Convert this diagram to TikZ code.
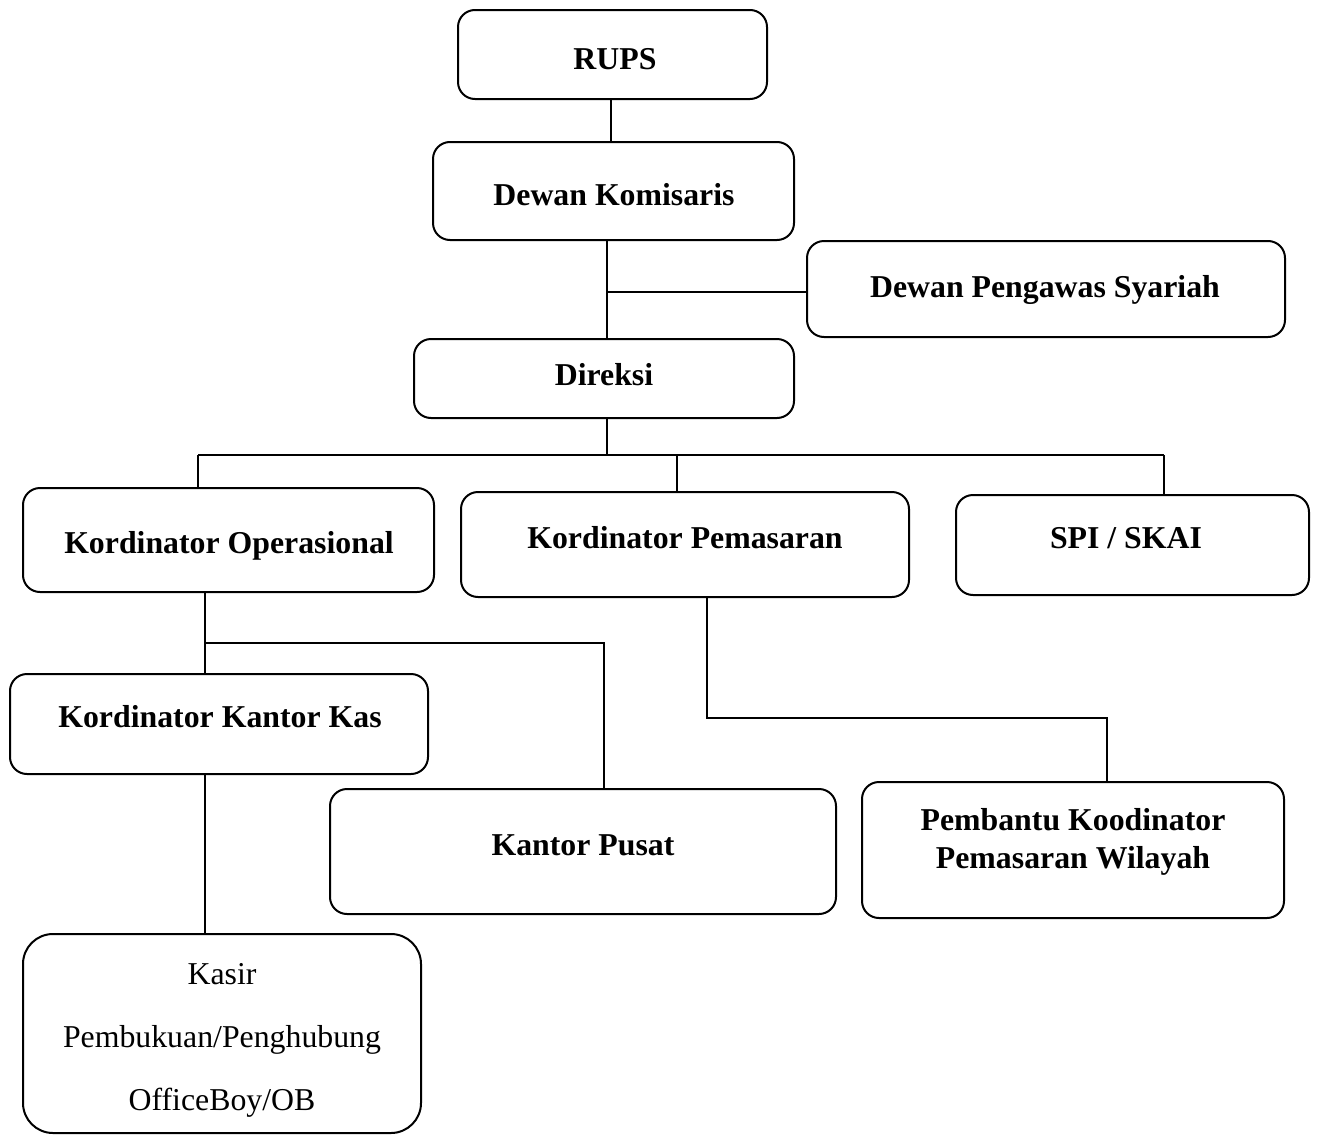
\documentclass[tikz,border=0pt]{standalone}
\usepackage{fontspec}
\setmainfont{Liberation Serif}

\begin{document}
\begin{tikzpicture}[
    x=0.5pt, y=-0.5pt,
    unit/.style={rectangle, draw=black, line width=1pt, rounded corners=8.5pt,
        inner sep=0pt},
    title/.style={font=\fontsize{15.9}{19}\selectfont\bfseries, align=center,
        inner sep=0pt, yshift=-1.5pt},
    staff/.style={font=\fontsize{15.9}{31.5}\selectfont, align=center,
        inner sep=0pt, yshift=-1.5pt},
    link/.style={line width=0.9pt, -}
]
    \useasboundingbox (0,0) rectangle (1317,1135);
    % boxes
    \node[unit, minimum width=154.5pt, minimum height=44.5pt] (rups) at (612.5,54.5) {};
    \node[unit, minimum width=180.5pt, minimum height=49pt] (dk) at (613.5,191) {};
    \node[unit, minimum width=239pt, minimum height=48pt] (dps) at (1046,289) {};
    \node[unit, minimum width=190pt, minimum height=39.5pt] (dir) at (604,378.5) {};
    \node[unit, minimum width=205.5pt, minimum height=52pt] (ko) at (228.5,540) {};
    \node[unit, minimum width=224pt, minimum height=52.5pt] (kp) at (685,544.5) {};
    \node[unit, minimum width=176.5pt, minimum height=50pt] (spi) at (1132.5,545) {};
    \node[unit, minimum width=209pt, minimum height=50pt] (kkk) at (219,724) {};
    \node[unit, minimum width=253pt, minimum height=62.5pt] (kpus) at (583,851.5) {};
    \node[unit, minimum width=211pt, minimum height=68pt] (pkpw) at (1073,850) {};
    \node[unit, rounded corners=15pt, minimum width=199pt, minimum height=99.5pt] (kasir) at (222,1033.5) {};
    % texts
    \node[title] (rupsT) at (615,56) {RUPS};
    \node[title] (dkT) at (614,192) {Dewan Komisaris};
    \node[title] (dpsT) at (1045,287) {Dewan Pengawas Syariah};
    \node[title] (dirT) at (604,372) {Direksi};
    \node[title] (koT) at (229,543) {Kordinator Operasional};
    \node[title] (kpT) at (685,535) {Kordinator Pemasaran};
    \node[title] (spiT) at (1126,535) {SPI / SKAI};
    \node[title] (kkkT) at (220,714) {Kordinator Kantor Kas};
    \node[title] (kpusT) at (583,842) {Kantor Pusat};
    \node[title] (pkpwT) at (1073,839) {Pembantu Koodinator\\Pemasaran Wilayah};
    \node[staff] (kasirT) at (222,1037) {Kasir\\Pembukuan/Penghubung\\OfficeBoy/OB};
    % junctions
    \coordinate (j1) at (607,292);
    \coordinate (bus) at (607,455);
    \coordinate (busL) at (198,455);
    \coordinate (busM) at (677,455);
    \coordinate (busR) at (1164,455);
    \coordinate (j2) at (205,643);
    \coordinate (j3) at (604,643);
    \coordinate (j4) at (707,718);
    \coordinate (j5) at (1107,718);
    % lines
    \draw[link] (rups.south -| 611,0) -- (dk.north -| 611,0);
    \draw[link] (dk.south -| j1) -- (dir.north -| j1);
    \draw[link] (j1) -- (j1 -| dps.west);
    \draw[link] (dir.south -| bus) -- (bus);
    \draw[link] (busL) -- (busR);
    \draw[link] (busL) -- (busL |- ko.north);
    \draw[link] (busM) -- (busM |- kp.north);
    \draw[link] (busR) -- (busR |- spi.north);
    \draw[link] (ko.south -| j2) -- (kkk.north -| j2);
    \draw[link] (j2) -- (j3) -- (j3 |- kpus.north);
    \draw[link] (kp.south -| j4) -- (j4) -- (j5) -- (j5 |- pkpw.north);
    \draw[link] (kkk.south -| j2) -- (kasir.north -| j2);
\end{tikzpicture}
\end{document}
